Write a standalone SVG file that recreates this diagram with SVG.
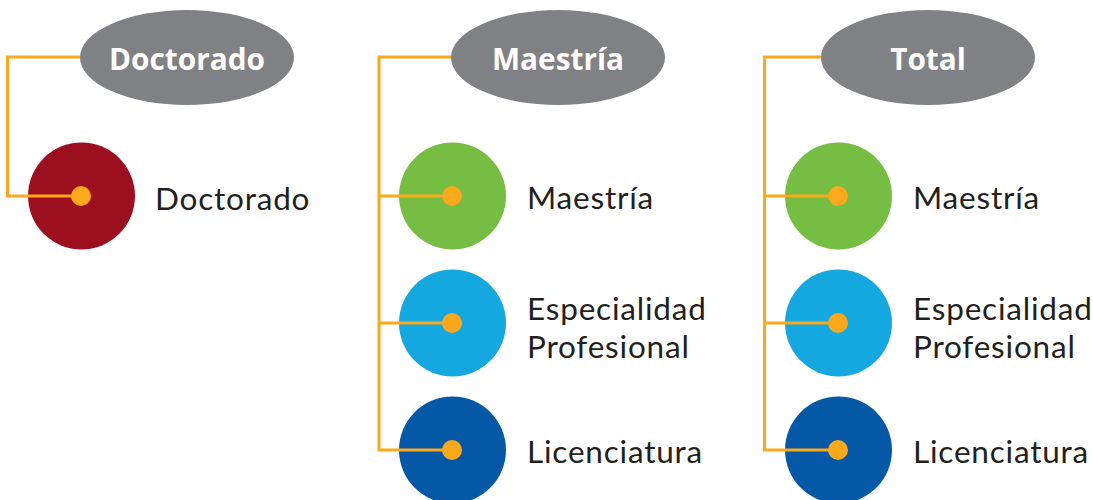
<svg xmlns="http://www.w3.org/2000/svg" width="1093" height="500" viewBox="0 0 1093 500">
<style>
.hdr{fill:#808184}
.ht{font-family:"Open Sans",sans-serif;font-weight:bold;font-size:29.8px;fill:#fff;text-anchor:middle}
.lb{font-family:Lato,sans-serif;font-size:31.5px;letter-spacing:0.8px;fill:#231f20}
.ln{fill:none;stroke:#f9a91b;stroke-width:3}
.dot{fill:#f9a91b}
.c1{fill:#9b0f1f}.c2{fill:#76bd43}.c3{fill:#15a8e0}.c4{fill:#0458a6}
</style>
<rect width="1093" height="500" fill="#fff"/>
<g id="h-doctorado"><ellipse class="hdr" cx="187" cy="57.5" rx="107" ry="47.5"/><text class="ht" x="187" y="70">Doctorado</text></g>
<g id="h-maestria"><ellipse class="hdr" cx="558" cy="57.5" rx="107" ry="47.5"/><text class="ht" x="558" y="70">Maestría</text></g>
<g id="h-total"><ellipse class="hdr" cx="928" cy="57.5" rx="107" ry="47.5"/><text class="ht" x="928" y="70">Total</text></g>
<g id="n-doc"><circle class="c1" cx="81.5" cy="196" r="53.5"/><text class="lb" x="155" y="210">Doctorado</text></g>
<g id="n-m-maes"><circle class="c2" cx="452.5" cy="196" r="53.5"/><text class="lb" x="527" y="209">Maestría</text></g>
<g id="n-m-esp"><circle class="c3" cx="452.5" cy="323" r="53.5"/><text class="lb" x="527" y="320">Especialidad</text><text class="lb" x="527" y="358">Profesional</text></g>
<g id="n-m-lic"><circle class="c4" cx="452.5" cy="450" r="53.5"/><text class="lb" x="527" y="463">Licenciatura</text></g>
<g id="n-t-maes"><circle class="c2" cx="838.5" cy="196" r="53.5"/><text class="lb" x="913" y="209">Maestría</text></g>
<g id="n-t-esp"><circle class="c3" cx="838.5" cy="323" r="53.5"/><text class="lb" x="913" y="320">Especialidad</text><text class="lb" x="913" y="358">Profesional</text></g>
<g id="n-t-lic"><circle class="c4" cx="838.5" cy="450" r="53.5"/><text class="lb" x="913" y="463">Licenciatura</text></g>
<g id="connectors">
<path class="ln" d="M80 57H7.5V196H81"/>
<path class="ln" d="M451 57H379V450H452M379 196H452M379 323H452"/>
<path class="ln" d="M821 57H764.5V450H838M764.5 196H838M764.5 323H838"/>
<circle class="dot" cx="81" cy="196" r="10"/>
<circle class="dot" cx="452" cy="196" r="10"/>
<circle class="dot" cx="452" cy="323" r="10"/>
<circle class="dot" cx="452" cy="450" r="10"/>
<circle class="dot" cx="838" cy="196" r="10"/>
<circle class="dot" cx="838" cy="323" r="10"/>
<circle class="dot" cx="838" cy="450" r="10"/>
</g>
</svg>
